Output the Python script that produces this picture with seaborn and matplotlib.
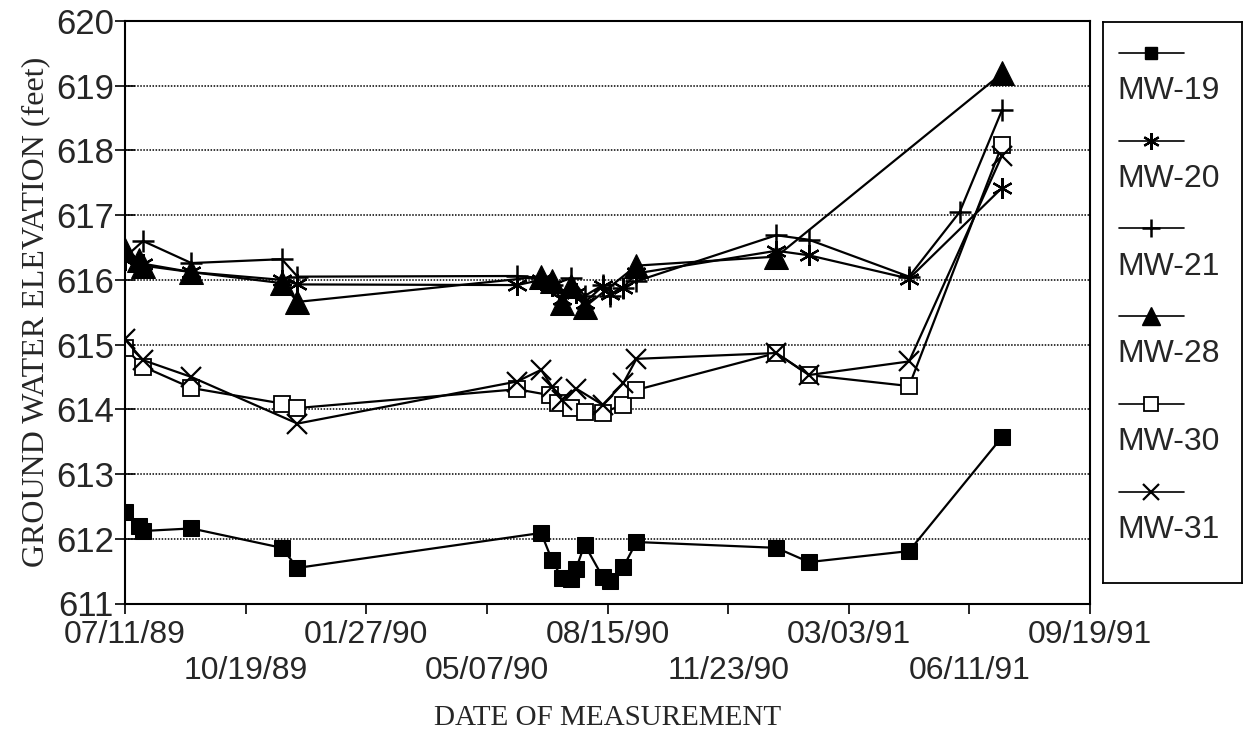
import pandas as pd
import matplotlib
matplotlib.use("Agg")
import matplotlib.pyplot as plt
import matplotlib.dates as mdates
import seaborn as sns

WELLS = ["MW-19", "MW-20", "MW-21", "MW-28", "MW-30", "MW-31"]

MW19_DATES = ["1989-07-11", "1989-07-23", "1989-07-26", "1989-09-04", "1989-11-18", "1989-12-01",
              "1990-06-21", "1990-06-30", "1990-07-08", "1990-07-16", "1990-07-20", "1990-07-27",
              "1990-08-11", "1990-08-17", "1990-08-28", "1990-09-08",
              "1991-01-02", "1991-01-29", "1991-04-22", "1991-07-08"]
MW19_ELEV = [612.42, 612.20, 612.12, 612.16, 611.86, 611.55,
             612.09, 611.67, 611.40, 611.38, 611.54, 611.91,
             611.41, 611.35, 611.56, 611.95,
             611.86, 611.64, 611.81, 613.57]

MW20_DATES = ["1989-07-11", "1989-07-26", "1989-09-04", "1989-11-18", "1989-12-01",
              "1990-06-01", "1990-06-21", "1990-06-30", "1990-07-08", "1990-07-20", "1990-07-27",
              "1990-08-11", "1990-08-17", "1990-08-28", "1990-09-08",
              "1991-01-02", "1991-01-29", "1991-04-22", "1991-07-08"]
MW20_ELEV = [616.30, 616.25, 616.12, 616.00, 615.93,
             615.92, 616.00, 615.90, 615.70, 615.80, 615.65,
             615.90, 615.78, 615.88, 616.10,
             616.45, 616.38, 616.02, 617.42]

MW21_DATES = ["1989-07-11", "1989-07-26", "1989-09-04", "1989-11-18", "1989-12-01",
              "1990-06-01", "1990-06-21", "1990-06-30", "1990-07-16", "1990-07-27",
              "1990-08-11", "1990-08-17", "1990-08-28", "1990-09-08",
              "1991-01-02", "1991-01-29", "1991-04-22", "1991-06-03", "1991-07-08"]
MW21_ELEV = [616.35, 616.60, 616.26, 616.32, 616.05,
             616.06, 616.03, 615.92, 616.03, 615.75,
             615.92, 615.75, 615.88, 615.98,
             616.69, 616.62, 616.05, 617.05, 618.62]

MW28_DATES = ["1989-07-11", "1989-07-23", "1989-07-26", "1989-09-04", "1989-11-18", "1989-12-01",
              "1990-06-21", "1990-06-30", "1990-07-08", "1990-07-16", "1990-07-27", "1990-09-08",
              "1991-01-02", "1991-07-08"]
MW28_ELEV = [616.46, 616.30, 616.22, 616.12, 615.95, 615.66,
             616.05, 615.98, 615.64, 615.90, 615.58, 616.22,
             616.36, 619.19]

MW30_DATES = ["1989-07-11", "1989-07-26", "1989-09-04", "1989-11-18", "1989-12-01",
              "1990-06-01", "1990-06-28", "1990-07-05", "1990-07-16", "1990-07-27",
              "1990-08-11", "1990-08-28", "1990-09-08",
              "1991-01-02", "1991-01-29", "1991-04-22", "1991-07-08"]
MW30_ELEV = [614.95, 614.66, 614.33, 614.09, 614.02,
             614.31, 614.22, 614.10, 614.02, 613.96,
             613.95, 614.07, 614.30,
             614.87, 614.53, 614.36, 618.08]

MW31_DATES = ["1989-07-11", "1989-07-26", "1989-09-04", "1989-12-01",
              "1990-06-01", "1990-06-21", "1990-06-30", "1990-07-08", "1990-07-20",
              "1990-08-11", "1990-08-28", "1990-09-08",
              "1991-01-02", "1991-01-29", "1991-04-22", "1991-07-08"]
MW31_ELEV = [615.08, 614.76, 614.50, 613.78,
             614.43, 614.61, 614.35, 614.15, 614.32,
             614.07, 614.40, 614.78,
             614.87, 614.53, 614.74, 617.92]

TICK_DATES = ["1989-07-11", "1989-10-19", "1990-01-27", "1990-05-07", "1990-08-15",
              "1990-11-23", "1991-03-03", "1991-06-11", "1991-09-19"]
TICK_LABELS = ["07/11/89", "10/19/89", "01/27/90", "05/07/90", "08/15/90",
               "11/23/90", "03/03/91", "06/11/91", "09/19/91"]

SERIES = {
    "MW-19": (MW19_DATES, MW19_ELEV),
    "MW-20": (MW20_DATES, MW20_ELEV),
    "MW-21": (MW21_DATES, MW21_ELEV),
    "MW-28": (MW28_DATES, MW28_ELEV),
    "MW-30": (MW30_DATES, MW30_ELEV),
    "MW-31": (MW31_DATES, MW31_ELEV),
}

STYLE = {
    "MW-19": dict(marker="s", markersize=11, mfc="black", mec="black"),
    "MW-20": dict(marker=(6, 2, 0), markersize=15, mec="black", mew=1.6),
    "MW-21": dict(marker="+", markersize=16, mec="black", mew=1.8),
    "MW-28": dict(marker="^", markersize=17, mfc="black", mec="black"),
    "MW-30": dict(marker="s", markersize=12, mfc="white", mec="black", mew=1.3),
    "MW-31": dict(marker="x", markersize=14, mec="black", mew=1.6),
}

rows = []
for well, (dates, elev) in SERIES.items():
    for d, v in zip(dates, elev):
        rows.append({"well": well, "date": pd.Timestamp(d), "elev": v})
df = pd.DataFrame(rows)

sns.set_theme(style="white")
plt.rcParams["font.family"] = ["Liberation Sans", "DejaVu Sans"]

fig = plt.figure(figsize=(12.46, 7.34), dpi=100)
ax = fig.add_axes([125 / 1246, 1 - 603.5 / 734, (1090 - 125) / 1246, (603.5 - 21) / 734])

for well in WELLS:
    sub = df[df["well"] == well]
    sns.lineplot(data=sub, x="date", y="elev", ax=ax, color="black", linewidth=1.6,
                 estimator=None, sort=False, legend=False, **STYLE[well])

ax.set_xlim(pd.Timestamp(TICK_DATES[0]), pd.Timestamp(TICK_DATES[-1]))
ax.set_ylim(611, 620)
ax.set_yticks(range(611, 621))
ax.set_yticklabels([str(v) for v in range(611, 621)], fontsize=25)
ax.set_xticks([mdates.date2num(pd.Timestamp(d)) for d in TICK_DATES])
ax.set_xticklabels([lab if i % 2 == 0 else "\n" + lab for i, lab in enumerate(TICK_LABELS)],
                   fontsize=23, linespacing=1.25)
ax.tick_params(axis="y", direction="inout", length=14, width=1.2, color="black", pad=1, left=True)
ax.tick_params(axis="x", direction="out", length=7, width=1.2, color="black", pad=5, bottom=True)
ax.yaxis.grid(True, linestyle=(0, (1, 1)), color="black", linewidth=1.1)
ax.xaxis.grid(False)
for sp in ax.spines.values():
    sp.set_color("black")
    sp.set_linewidth(1.5)

ax.set_xlabel("DATE OF MEASUREMENT", family="Liberation Serif", fontsize=21, labelpad=14)
ax.set_ylabel("GROUND WATER ELEVATION (feet)", family="Liberation Serif", fontsize=23, labelpad=4)

# legend box: sample line with marker, label underneath
lax = fig.add_axes([1103 / 1246, 1 - 583 / 734, (1242 - 1103) / 1246, (583 - 22) / 734])
lax.set_xlim(0, 1)
lax.set_ylim(0, 1)
lax.set_xticks([])
lax.set_yticks([])
for sp in lax.spines.values():
    sp.set_color("black")
    sp.set_linewidth(1.3)
for i, well in enumerate(WELLS):
    yy = 0.945 - i * 0.1565
    st = dict(STYLE[well])
    st["markersize"] = st["markersize"] * 0.8
    lax.plot([0.115, 0.345, 0.58], [yy, yy, yy], color="black", linewidth=1.2,
             markevery=[1], **st)
    lax.text(0.1, yy - 0.068, well, fontsize=23, ha="left", va="center")

fig.savefig("out.png", dpi=100)
